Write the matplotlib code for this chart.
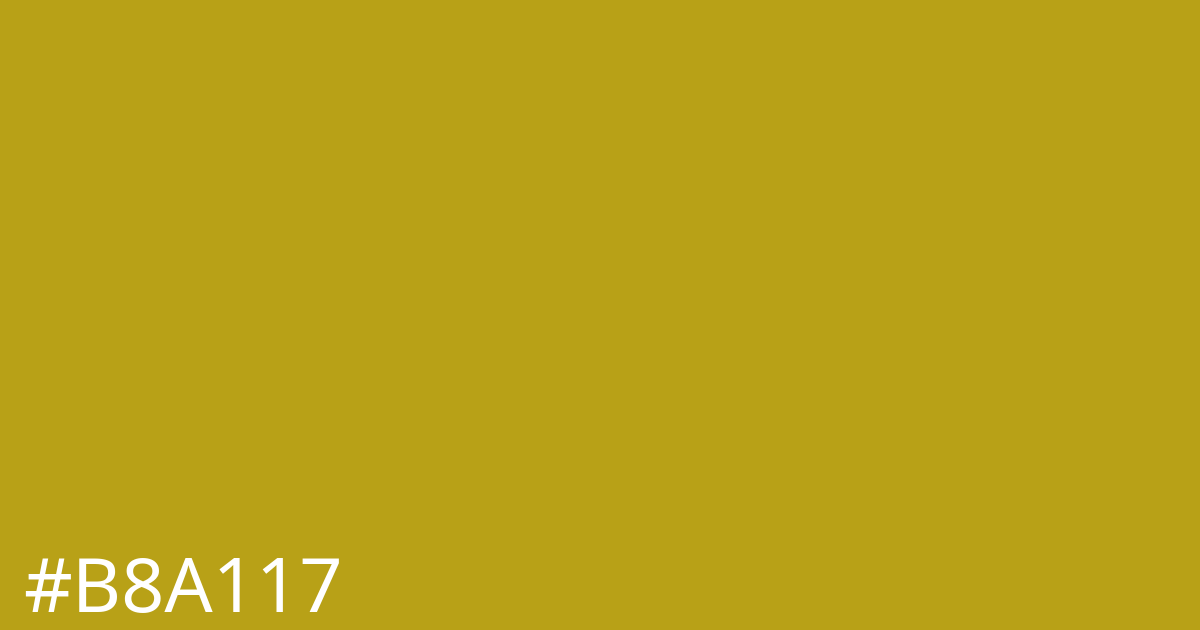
import matplotlib
matplotlib.use("Agg")
import matplotlib.pyplot as plt

bg_color = "#B8A117"
label = "#B8A117"

fig = plt.figure(figsize=(12, 6.3), dpi=100)
fig.patch.set_facecolor(bg_color)
fig.text(23 / 1200, (630 - 612) / 630, label, color="white",
         fontsize=54.5, family=["Noto Sans", "DejaVu Sans"],
         ha="left", va="baseline")
fig.savefig("out.png", dpi=100, facecolor=bg_color)
